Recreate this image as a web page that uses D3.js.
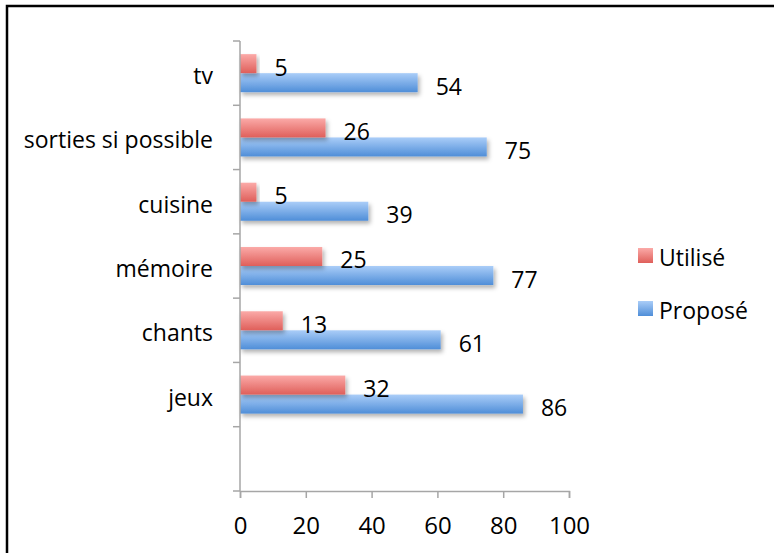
<!DOCTYPE html>
<html>
<head>
<meta charset="utf-8">
<script src="https://cdn.jsdelivr.net/npm/d3@7"></script>
<style>
  body { margin: 0; background: #fff; }
  text { font-family: "Open Sans", "Noto Sans", sans-serif; fill: #000; }
</style>
</head>
<body>
<script>
// activites : propose vs utilise
var categories = ['tv', 'sorties si possible', 'cuisine', 'mémoire', 'chants', 'jeux', ''];
var series = ['Utilisé', 'Proposé'];
var utilise = [5, 26, 5, 25, 13, 32];
var propose = [54, 75, 39, 77, 61, 86];
var xTicks = [0, 20, 40, 60, 80, 100];

var W = 774, H = 553;
var fontSize = 23;
var axisGrey = '#a6a6a6';

var svg = d3.select('body').append('svg').attr('width', W).attr('height', H);

var defs = svg.append('defs');
function addGradient(id, top, bottom){
    var g = defs.append('linearGradient').attr('id', id)
        .attr('x1', 0).attr('y1', 0).attr('x2', 0).attr('y2', 1);
    g.append('stop').attr('offset', '0%').attr('stop-color', top);
    g.append('stop').attr('offset', '100%').attr('stop-color', bottom);
}
addGradient('gradRed', '#fbaaa8', '#df5f5a');
addGradient('gradBlue', '#aacdf8', '#4f8ed8');

var shadow = defs.append('filter').attr('id', 'shadow')
    .attr('x', '-10%').attr('y', '-30%').attr('width', '130%').attr('height', '180%');
shadow.append('feDropShadow').attr('dx', 2).attr('dy', 3).attr('stdDeviation', 2)
    .attr('flood-color', '#000').attr('flood-opacity', 0.3);

// frame (only left and top edges fall inside the picture)
svg.append('path').attr('d', `M7,${H} V6 H${W}`)
    .attr('fill', 'none').attr('stroke', '#000').attr('stroke-width', 2.5);

var x = d3.scaleLinear().domain([0, 100]).range([240, 569]);
var y = d3.scaleBand().domain(categories).range([41, 491]).padding(0);
var ySub = d3.scaleBand().domain(series).range([0, y.bandwidth()])
    .paddingInner(0).paddingOuter(0.69);

var colors = { 'Utilisé': 'url(#gradRed)', 'Proposé': 'url(#gradBlue)' };

var rows = [];
categories.forEach(function(c, i){
    if (c === '') return;
    rows.push({cat: c, s: 'Utilisé', v: utilise[i]});
    rows.push({cat: c, s: 'Proposé', v: propose[i]});
});

// bars, blue drawn first so red sits on top of its shadow
var barG = svg.append('g');
var order = rows.slice().sort(function(a, b){ return a.s === 'Proposé' ? -1 : 1; });
barG.selectAll('rect').data(order).enter().append('rect')
    .attr('x', x(0))
    .attr('y', function(d){ return y(d.cat) + ySub(d.s); })
    .attr('width', function(d){ return x(d.v) - x(0); })
    .attr('height', ySub.bandwidth())
    .attr('fill', function(d){ return colors[d.s]; })
    .attr('filter', 'url(#shadow)');

// value labels
svg.append('g').selectAll('text').data(rows).enter().append('text')
    .attr('x', function(d){ return x(d.v) + 18; })
    .attr('y', function(d){ return y(d.cat) + ySub(d.s) + ySub.bandwidth() / 2 + 3; })
    .attr('dominant-baseline', 'central')
    .style('font-size', fontSize + 'px')
    .text(function(d){ return d.v; });

// y axis: line with ticks at band edges
var yAxisG = svg.append('g');
yAxisG.append('line').attr('x1', x(0)).attr('x2', x(0))
    .attr('y1', y.range()[0]).attr('y2', y.range()[1])
    .attr('stroke', axisGrey).attr('stroke-width', 1.5);
var edges = categories.map(function(c){ return y(c); }).concat([y.range()[1]]);
yAxisG.selectAll('line.tick').data(edges).enter().append('line').classed('tick', true)
    .attr('x1', x(0) - 7).attr('x2', x(0))
    .attr('y1', function(d){ return d; }).attr('y2', function(d){ return d; })
    .attr('stroke', axisGrey).attr('stroke-width', 1.5);
yAxisG.selectAll('text').data(categories).enter().append('text')
    .attr('x', 213)
    .attr('y', function(c){ return y(c) + y.bandwidth() / 2 + 2; })
    .attr('text-anchor', 'end')
    .attr('dominant-baseline', 'central')
    .style('font-size', fontSize + 'px')
    .text(function(c){ return c; });

// x axis
var xAxis = d3.axisBottom(x).tickValues(xTicks).tickSize(7).tickPadding(19);
var xAxisG = svg.append('g').attr('transform', `translate(0,${y.range()[1]})`).call(xAxis);
xAxisG.select('.domain').attr('stroke', axisGrey).attr('stroke-width', 1.5);
xAxisG.selectAll('.tick line').attr('stroke', axisGrey).attr('stroke-width', 1.5);
xAxisG.selectAll('.tick text')
    .style('font-size', (fontSize + 1) + 'px')
    .style('font-family', '"Open Sans", "Noto Sans", sans-serif')
    .attr('fill', '#000');

// legend
var legend = svg.append('g').attr('transform', 'translate(638,248)');
var legendItems = legend.selectAll('g').data(series).enter().append('g')
    .attr('transform', function(d, i){ return `translate(0,${i * 53})`; });
legendItems.append('rect').attr('width', 15).attr('height', 15)
    .attr('fill', function(d){ return colors[d]; });
legendItems.append('text').attr('x', 21).attr('y', 9)
    .attr('dominant-baseline', 'central')
    .style('font-size', fontSize + 'px')
    .text(function(d){ return d; });
</script>
</body>
</html>
